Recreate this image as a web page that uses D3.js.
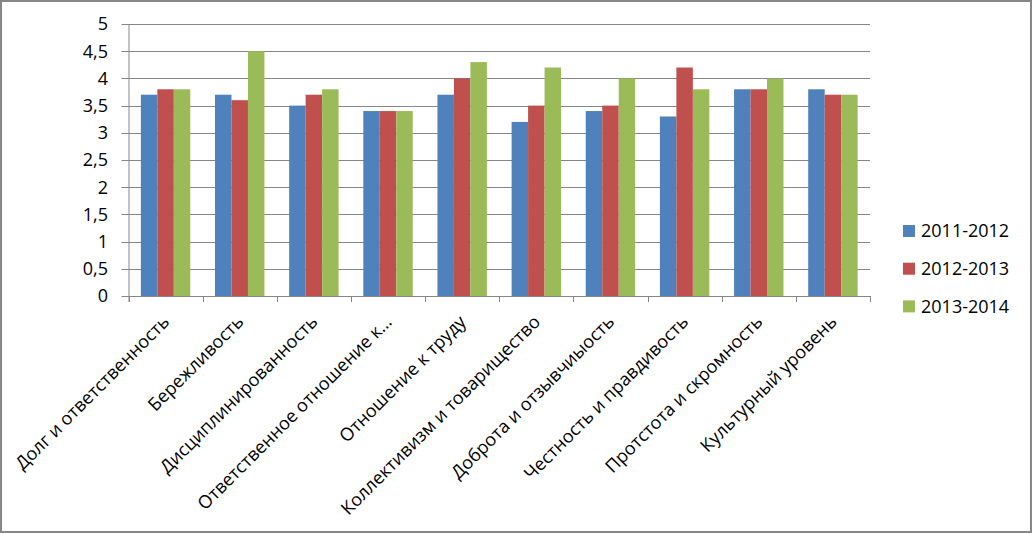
<!DOCTYPE html>
<html><head><meta charset="utf-8">
<script src="https://cdn.jsdelivr.net/npm/d3@7"></script>
<style>
html,body{margin:0;padding:0;background:#fff}
svg{display:block;font-family:"Open Sans","Noto Sans",sans-serif}
</style></head>
<body><svg id="chart" width="1033" height="534"></svg>
<script>
// Оценки качеств по учебным годам
const categories = ["Долг и ответственность","Бережливость","Дисциплинированность","Ответственное отношение к…","Отношение к труду","Коллективизм и товарищество","Доброта и отзывчиыость","Честность и правдивость","Протстота и скромность","Культурный уровень"];
const seriesNames = ["2011-2012","2012-2013","2013-2014"];
const s2011 = [3.7,3.7,3.5,3.4,3.7,3.2,3.4,3.3,3.8,3.8];
const s2012 = [3.8,3.6,3.7,3.4,4.0,3.5,3.5,4.2,3.8,3.7];
const s2013 = [3.8,4.5,3.8,3.4,4.3,4.2,4.0,3.8,4.0,3.7];
const yTicks = [0,0.5,1,1.5,2,2.5,3,3.5,4,4.5,5];
const colors = ["#4F81BD","#C0504D","#9BBB59"];

const series = [s2011, s2012, s2013];
const svg = d3.select("#chart");
const m = {left:128.5, right:870, top:24, bottom:296};

svg.append("rect").attr("x",1).attr("y",1).attr("width",1030).attr("height",531)
  .attr("fill","#fff").attr("stroke","#868686").attr("stroke-width",2);

// зазор 150%: группа = 3 столбца, шаг = 4.5 столбца
const x = d3.scaleBand().domain(categories).range([m.left, m.right])
  .paddingInner(1.5/4.5).paddingOuter(0.75/4.5);
const xs = d3.scaleBand().domain(d3.range(3)).range([0, x.bandwidth()]);
const y = d3.scaleLinear().domain([0,5]).range([m.bottom, m.top]);

// сетка
svg.append("g").selectAll("line").data(yTicks).join("line")
  .attr("x1", m.left - 7).attr("x2", m.right)
  .attr("y1", d => Math.round(y(d)) + 0.5).attr("y2", d => Math.round(y(d)) + 0.5)
  .attr("stroke","#868686").attr("stroke-width",1);

svg.append("g").selectAll("text").data(yTicks).join("text")
  .attr("x", 108).attr("y", d => y(d)).attr("dy","0.36em")
  .attr("text-anchor","end").attr("font-size",18).attr("fill","#000")
  .text(d => String(d).replace(".", ","));

// столбцы
svg.append("g").selectAll("g").data(series).join("g")
  .attr("fill", (d,i) => colors[i])
  .selectAll("rect").data((d,i) => d.map((v,j) => ({v, j, i}))).join("rect")
  .attr("x", d => x(categories[d.j]) + xs(d.i)).attr("width", xs.bandwidth())
  .attr("y", d => y(d.v)).attr("height", d => y(0) - y(d.v));

// ось X
const step = x.step();
svg.append("line").attr("x1", m.left).attr("x2", m.right)
  .attr("y1", m.bottom + 0.5).attr("y2", m.bottom + 0.5).attr("stroke","#868686");
svg.append("line").attr("x1", m.left + 0.5).attr("x2", m.left + 0.5)
  .attr("y1", m.top).attr("y2", m.bottom + 6).attr("stroke","#868686");
svg.append("g").selectAll("line").data(d3.range(11)).join("line")
  .attr("x1", i => Math.round(m.left + i * step) + 0.5).attr("x2", i => Math.round(m.left + i * step) + 0.5)
  .attr("y1", m.bottom).attr("y2", m.bottom + 6).attr("stroke","#868686");

svg.append("g").selectAll("text").data(categories).join("text")
  .attr("transform", d => `translate(${x(d) + x.bandwidth()/2 + 5},${m.bottom + 27}) rotate(-45)`)
  .attr("text-anchor","end").attr("font-size",18).attr("fill","#000")
  .text(d => d);

// легенда
const lg = svg.append("g").selectAll("g").data(seriesNames).join("g")
  .attr("transform", (d,i) => `translate(903,${231 + i * 37.7})`);
lg.append("rect").attr("x",0).attr("y",-6).attr("width",12).attr("height",12).attr("fill",(d,i) => colors[i]);
lg.append("text").attr("x",18).attr("dy","0.36em").attr("font-size",18).text(d => d);
</script></body></html>
